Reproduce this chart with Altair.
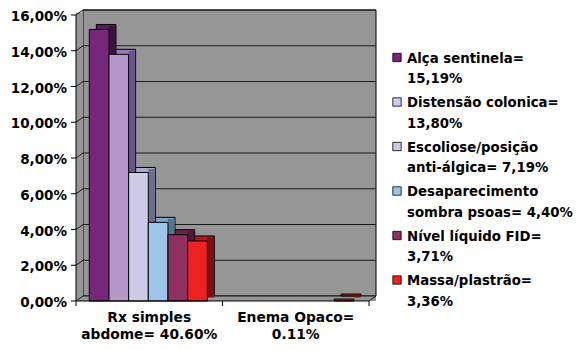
import altair as alt
import pandas as pd

# ---------------- data ----------------
categories = ["Rx simples\nabdome= 40.60%", "Enema Opaco=\n0.11%"]
series = ["Alça sentinela", "Distensão colonica", "Escoliose/posição anti-álgica",
          "Desaparecimento sombra psoas", "Nível líquido FID", "Massa/plastrão"]
legend_labels = ["Alça sentinela=\n15,19%", "Distensão colonica=\n13,80%",
                 "Escoliose/posição\nanti-álgica= 7,19%", "Desaparecimento\nsombra psoas= 4,40%",
                 "Nível líquido FID=\n3,71%", "Massa/plastrão=\n3,36%"]
rx_values = [15.19, 13.80, 7.19, 4.40, 3.71, 3.36]
enema_values = [0, 0, 0, 0, 0, 0.11]
y_ticks = [0, 2, 4, 6, 8, 10, 12, 14, 16]
y_tick_labels = ["0,00%", "2,00%", "4,00%", "6,00%", "8,00%", "10,00%", "12,00%", "14,00%", "16,00%"]

# ---------------- styles ----------------
front_colors = ["#77277A", "#B797C9", "#CBCBE6", "#9EC4E8", "#8E3060", "#EE2222"]
top_colors = ["#5B1A5E", "#9A7DB3", "#A9A9CC", "#7EA6CC", "#6E2248", "#B51A1A"]
side_colors = ["#3E0F42", "#6A548E", "#6D6D8C", "#56758F", "#521636", "#7A1010"]
legend_colors = ["#77277A", "#CCCCEC", "#CBCBE6", "#9EC4E8", "#8E3060", "#EE2222"]
WALL = "#969696"
FONT = "DejaVu Sans"

W, H = 293, 286
DX, DY = 7, 5
G0, BW = 13.3, 19.67           # group start inside band, bar width
GW = 6 * BW

rows = []
for c, vals in zip(categories, [rx_values, enema_values]):
    for s, v in zip(series, vals):
        rows.append({"cat": c, "series": s, "value": v})
bars_df = pd.DataFrame(rows)
grid_df = pd.DataFrame({"v": y_ticks, "label": y_tick_labels})
wall_df = pd.DataFrame({"lo": [min(y_ticks)], "hi": [max(y_ticks)]})
legend_df = pd.DataFrame({"series": series, "label": legend_labels})
cat_df = pd.DataFrame({"cat": categories})

yscale = alt.Scale(domain=[0, 16], nice=False, zero=True)
xscale = alt.Scale(domain=categories, paddingInner=0, paddingOuter=0)

def Y(field):
    return alt.Y(field, scale=yscale, axis=None)

# walls
back_wall = alt.Chart(wall_df).mark_rect(
    fill=WALL, stroke="black", strokeWidth=1, yOffset=-DY, y2Offset=-DY
).encode(x=alt.value(DX), x2=alt.value(W + DX), y=Y("hi:Q"), y2="lo:Q")

left_wall = alt.Chart(wall_df).mark_rect(
    fill=WALL, yOffset=-2.5, y2Offset=-2.5
).encode(x=alt.value(0), x2=alt.value(DX), y=Y("hi:Q"), y2="lo:Q")

floor = alt.Chart(wall_df).mark_rect(
    fill=WALL, yOffset=-DY
).encode(x=alt.value(0), x2=alt.value(W + DX), y=Y("lo:Q"), y2="lo:Q")

grid = alt.Chart(grid_df).mark_rule(color="#1a1a1a", strokeWidth=1, yOffset=-DY).encode(
    x=alt.value(DX), x2=alt.value(W + DX), y=Y("v:Q")
)
diag = alt.Chart(grid_df).mark_rule(color="#1a1a1a", strokeWidth=1, y2Offset=-DY).encode(
    x=alt.value(0), x2=alt.value(DX), y=Y("v:Q"), y2="v:Q"
)
floor_edge = alt.Chart(wall_df).mark_rule(color="#1a1a1a", strokeWidth=1, y2Offset=-DY).encode(
    x=alt.value(W), x2=alt.value(W + DX), y=Y("lo:Q"), y2="lo:Q"
)

# bars
base = alt.Chart(bars_df).transform_filter("datum.value > 0")

shadow = base.mark_bar(stroke="black", strokeWidth=1, yOffset=-DY, y2Offset=-DY).encode(
    x=alt.X("cat:N", scale=xscale, axis=None),
    xOffset=alt.XOffset("series:N", scale=alt.Scale(domain=series, range=[G0 + DX, G0 + GW + DX],
                                                     paddingInner=0, paddingOuter=0)),
    y=Y("value:Q"),
    color=alt.Color("series:N", scale=alt.Scale(domain=series, range=top_colors), legend=None),
)

side_start = G0 + BW / 2 + 3.25
side = base.mark_bar(width=6.5, yOffset=-3.5).encode(
    x=alt.X("cat:N", scale=xscale, axis=None),
    xOffset=alt.XOffset("series:N", scale=alt.Scale(domain=series, range=[side_start, side_start + GW],
                                                     paddingInner=0, paddingOuter=0)),
    y=Y("value:Q"),
    color=alt.Color("series:N", scale=alt.Scale(domain=series, range=side_colors), legend=None),
)

front = base.mark_bar(stroke="black", strokeWidth=1).encode(
    x=alt.X("cat:N", scale=xscale, axis=None),
    xOffset=alt.XOffset("series:N", scale=alt.Scale(domain=series, range=[G0, G0 + GW],
                                                     paddingInner=0, paddingOuter=0)),
    y=Y("value:Q"),
    color=alt.Color("series:N", scale=alt.Scale(domain=series, range=front_colors), legend=None),
)

# axes drawn as marks
y_domain = alt.Chart(wall_df).mark_rule(color="black", strokeWidth=1).encode(
    x=alt.value(0), y=Y("hi:Q"), y2="lo:Q"
)
x_domain = alt.Chart(wall_df).mark_rule(color="black", strokeWidth=1).encode(
    x=alt.value(0), x2=alt.value(W), y=Y("lo:Q")
)
y_tick_marks = alt.Chart(grid_df).mark_rule(color="black", strokeWidth=1).encode(
    x=alt.value(-5), x2=alt.value(0), y=Y("v:Q")
)
y_tick_text = alt.Chart(grid_df).mark_text(
    align="right", baseline="middle", dy=2, font=FONT, fontSize=13.5, fontWeight="bold", color="black"
).encode(x=alt.value(-9), y=Y("v:Q"), text="label:N")

xticks = alt.Chart(cat_df).mark_rule(color="black").encode(
    x=alt.X("cat:N", bandPosition=0, scale=xscale, axis=None), y=alt.value(H), y2=alt.value(H + 5)
)
xtick_end = alt.Chart(cat_df.head(1)).mark_rule(color="black").encode(
    x=alt.value(W), y=alt.value(H), y2=alt.value(H + 5)
)
x_text = alt.Chart(cat_df).mark_text(
    align="center", baseline="top", lineBreak="\n", lineHeight=16.5,
    font=FONT, fontSize=13.8, fontWeight="bold", color="black"
).encode(x=alt.X("cat:N", scale=xscale, axis=None), y=alt.value(H + 10), text="cat:N")

plot = alt.layer(back_wall, left_wall, floor, grid, diag, floor_edge,
                 shadow, side, front, y_domain, x_domain, y_tick_marks, y_tick_text,
                 xticks, xtick_end, x_text).resolve_scale(
    color="independent", xOffset="independent")

# legend
lscale = alt.Scale(domain=series, range=[42.5, 265], padding=0)
leg_sq = alt.Chart(legend_df).mark_square(size=70, stroke="black", strokeWidth=0.8, opacity=1).encode(
    x=alt.value(321), y=alt.Y("series:N", scale=lscale, axis=None),
    color=alt.Color("series:N", scale=alt.Scale(domain=series, range=legend_colors), legend=None),
)
leg_txt = alt.Chart(legend_df).mark_text(
    align="left", baseline="top", dy=-6, lineBreak="\n", lineHeight=20.5,
    font=FONT, fontSize=13.3, fontWeight="bold", color="black"
).encode(x=alt.value(331), y=alt.Y("series:N", scale=lscale, axis=None), text="label:N")
legend = alt.layer(leg_sq, leg_txt)

chart = alt.layer(plot, legend).resolve_scale(y="independent", color="independent").properties(
    width=W, height=H,
    autosize=alt.AutoSizeParams(type="none"),
    padding={"left": 68, "top": 7, "right": 209, "bottom": 41},
    background="white",
).configure_view(stroke=None)

chart.save("out.html", embed_options={"renderer": "svg", "actions": False})
